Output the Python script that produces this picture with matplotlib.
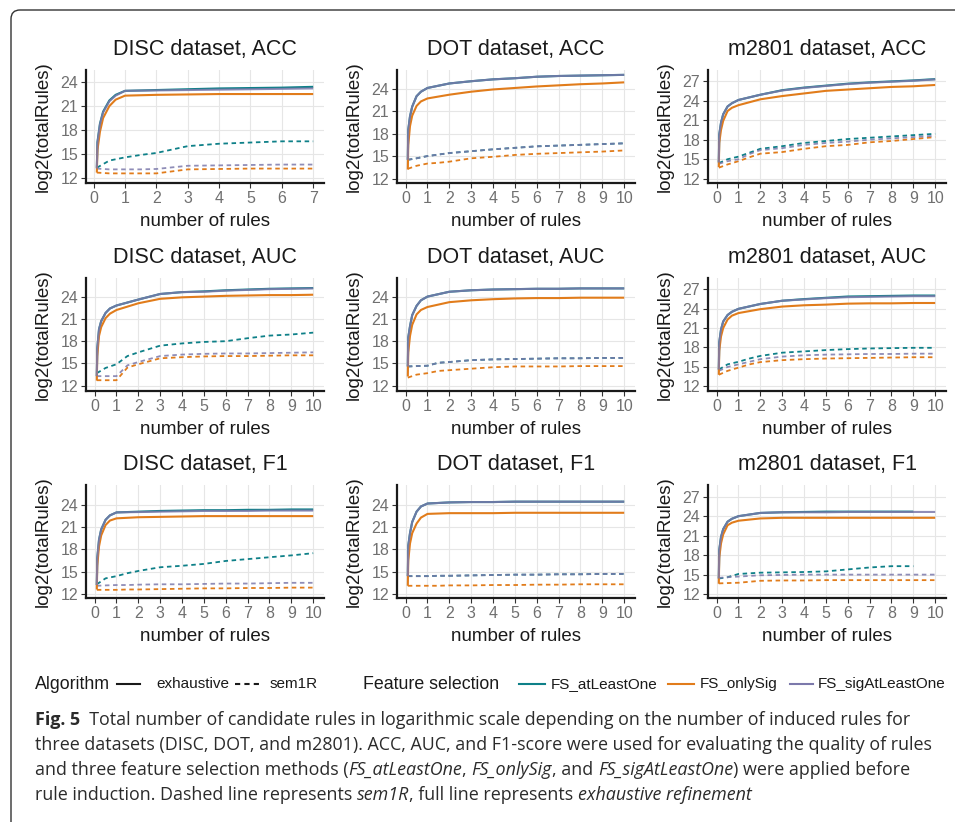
import numpy as np
import matplotlib
matplotlib.use("Agg")
from matplotlib import pyplot as plt
from matplotlib.lines import Line2D
from matplotlib.patches import FancyBboxPatch
from matplotlib.transforms import IdentityTransform

nan = np.nan

# x positions of the sampled points
x_exh = [0.1, 0.12, 0.2, 0.3, 0.5, 0.7, 1, 2, 3, 4, 5, 6, 7, 8, 9, 10]
x_sem = [0.1, 0.5, 1, 1.5, 2, 3, 4, 5, 6, 7, 8, 9, 10]
x_exh7 = x_exh[:13]
x_sem7 = x_sem[:10]

feature_sel = ["FS_atLeastOne", "FS_onlySig", "FS_sigAtLeastOne"]
colors = ["#0E8088", "#E17C1B", "#7C79AB"]

# each list: [FS_atLeastOne, FS_onlySig, FS_sigAtLeastOne]
disc_acc_exh = [
    [13.3, 16.5, 18.8, 20.3, 21.7, 22.4, 22.9, 23.0, 23.1, 23.2, 23.25, 23.3, 23.4],
    [12.7, 15.5, 17.8, 19.5, 21.0, 21.8, 22.3, 22.4, 22.45, 22.5, 22.5, 22.5, 22.5],
    [13.2, 16.4, 18.7, 20.2, 21.6, 22.3, 22.9, 22.95, 23.0, 23.05, 23.1, 23.15, 23.2],
]
disc_acc_sem = [
    [13.3, 14.2, 14.6, 14.9, 15.15, 16.0, 16.3, 16.45, 16.6, 16.6],
    [12.7, 12.6, 12.6, 12.6, 12.6, 13.1, 13.15, 13.2, 13.2, 13.2],
    [13.2, 13.1, 13.1, 13.1, 13.15, 13.55, 13.6, 13.65, 13.7, 13.7],
]
dot_acc_exh = [
    [14.5, 18.5, 20.3, 21.6, 23.0, 23.6, 24.1, 24.7, 25.0, 25.25, 25.4, 25.6, 25.7, 25.75, 25.8, 25.85],
    [13.2, 16.5, 19.0, 20.4, 21.7, 22.3, 22.7, 23.2, 23.6, 23.9, 24.1, 24.3, 24.45, 24.6, 24.7, 24.85],
    [14.5, 18.5, 20.3, 21.6, 23.0, 23.6, 24.1, 24.7, 25.0, 25.25, 25.4, 25.6, 25.7, 25.75, 25.8, 25.85],
]
dot_acc_sem = [
    [14.5, 14.7, 15.0, 15.2, 15.4, 15.65, 15.9, 16.1, 16.3, 16.4, 16.5, 16.6, 16.7],
    [13.3, 13.7, 14.0, 14.1, 14.25, 14.7, 14.9, 15.15, 15.3, 15.4, 15.5, 15.6, 15.75],
    [14.5, 14.7, 15.0, 15.2, 15.4, 15.65, 15.9, 16.1, 16.3, 16.4, 16.5, 16.6, 16.7],
]
m2801_acc_exh = [
    [14.5, 18.8, 20.6, 21.9, 23.1, 23.6, 24.1, 24.9, 25.6, 26.0, 26.3, 26.6, 26.8, 26.95, 27.1, 27.3],
    [13.8, 17.5, 19.5, 20.9, 22.4, 22.9, 23.3, 24.2, 24.7, 25.1, 25.5, 25.7, 25.9, 26.1, 26.2, 26.4],
    [14.5, 18.8, 20.6, 21.9, 23.1, 23.6, 24.1, 24.9, 25.55, 25.95, 26.25, 26.55, 26.75, 26.9, 27.05, 27.25],
]
m2801_acc_sem = [
    [14.4, 15.0, 15.4, 16.0, 16.6, 17.0, 17.5, 17.8, 18.1, 18.3, 18.5, 18.7, 18.9],
    [13.7, 14.2, 14.7, 15.3, 15.85, 16.1, 16.6, 17.0, 17.2, 17.6, 17.8, 18.1, 18.4],
    [14.3, 14.7, 15.0, 15.8, 16.4, 16.7, 17.2, 17.5, 17.7, 18.0, 18.2, 18.4, 18.6],
]
disc_auc_exh = [
    [13.3, 17.0, 19.6, 20.7, 21.8, 22.4, 22.8, 23.6, 24.35, 24.6, 24.7, 24.85, 24.95, 25.05, 25.1, 25.15],
    [12.7, 16.0, 18.7, 19.9, 21.1, 21.7, 22.2, 23.1, 23.7, 23.9, 24.0, 24.1, 24.15, 24.2, 24.2, 24.25],
    [13.3, 17.0, 19.6, 20.7, 21.8, 22.4, 22.8, 23.6, 24.35, 24.6, 24.65, 24.8, 24.9, 25.0, 25.05, 25.1],
]
disc_auc_sem = [
    [13.7, 14.4, 14.9, 16.0, 16.5, 17.4, 17.7, 17.9, 18.0, 18.4, 18.75, 18.9, 19.15],
    [12.75, 12.75, 12.75, 14.45, 14.9, 15.7, 15.85, 15.95, 16.0, 16.0, 16.05, 16.1, 16.1],
    [13.3, 13.3, 13.3, 14.75, 15.2, 16.0, 16.2, 16.3, 16.35, 16.35, 16.4, 16.45, 16.5],
]
dot_auc_exh = [
    [14.6, 18.5, 20.0, 21.5, 22.75, 23.5, 24.0, 24.65, 24.85, 24.95, 25.0, 25.05, 25.05, 25.1, 25.1, 25.1],
    [13.25, 16.5, 18.7, 20.2, 21.6, 22.2, 22.6, 23.25, 23.5, 23.65, 23.75, 23.8, 23.8, 23.85, 23.85, 23.85],
    [14.6, 18.5, 20.0, 21.5, 22.75, 23.5, 24.0, 24.65, 24.85, 24.95, 25.0, 25.05, 25.05, 25.1, 25.1, 25.1],
]
dot_auc_sem = [
    [14.6, 14.65, 14.7, 15.1, 15.2, 15.45, 15.55, 15.6, 15.65, 15.7, 15.7, 15.75, 15.75],
    [13.1, 13.5, 13.7, 14.0, 14.1, 14.3, 14.5, 14.6, 14.6, 14.6, 14.65, 14.65, 14.65],
    [14.6, 14.65, 14.7, 15.1, 15.2, 15.45, 15.55, 15.6, 15.65, 15.7, 15.7, 15.75, 15.75],
]
m2801_auc_exh = [
    [14.6, 18.8, 20.75, 22.0, 23.0, 23.5, 23.95, 24.7, 25.2, 25.45, 25.65, 25.85, 25.9, 25.95, 26.0, 26.0],
    [13.8, 17.5, 19.7, 21.0, 22.3, 22.9, 23.3, 23.9, 24.3, 24.5, 24.6, 24.75, 24.8, 24.8, 24.85, 24.85],
    [14.6, 18.8, 20.75, 22.0, 23.0, 23.5, 23.95, 24.7, 25.2, 25.4, 25.6, 25.75, 25.8, 25.85, 25.9, 25.9],
]
m2801_auc_sem = [
    [14.6, 15.4, 15.8, 16.3, 16.7, 17.2, 17.4, 17.6, 17.75, 17.85, 17.9, 17.95, 17.95],
    [13.8, 14.4, 14.9, 15.4, 15.75, 16.05, 16.2, 16.3, 16.35, 16.4, 16.45, 16.5, 16.5],
    [14.4, 15.0, 15.4, 15.8, 16.2, 16.6, 16.8, 16.9, 16.95, 17.0, 17.0, 17.05, 17.05],
]
disc_f1_exh = [
    [13.2, 16.8, 19.3, 20.7, 22.0, 22.6, 23.0, 23.1, 23.2, 23.25, 23.3, 23.3, 23.35, 23.35, 23.4, 23.4],
    [12.6, 15.8, 18.4, 19.9, 21.3, 21.9, 22.2, 22.35, 22.4, 22.45, 22.5, 22.5, 22.5, 22.5, 22.5, 22.5],
    [13.2, 16.8, 19.3, 20.7, 22.0, 22.6, 23.0, 23.05, 23.1, 23.15, 23.2, 23.2, 23.2, 23.25, 23.25, 23.25],
]
disc_f1_sem = [
    [13.3, 14.1, 14.4, 14.8, 15.1, 15.6, 15.8, 16.05, 16.45, 16.7, 16.95, 17.2, 17.5],
    [12.55, 12.55, 12.55, 12.6, 12.6, 12.65, 12.7, 12.75, 12.75, 12.8, 12.8, 12.85, 12.85],
    [13.1, 13.15, 13.2, 13.2, 13.25, 13.3, 13.3, 13.35, 13.4, 13.4, 13.45, 13.5, 13.5],
]
dot_f1_exh = [
    [14.4, 18.5, 20.2, 21.7, 23.1, 23.8, 24.2, 24.35, 24.4, 24.4, 24.45, 24.45, 24.45, 24.45, 24.45, 24.45],
    [13.1, 16.5, 18.8, 20.2, 21.5, 22.3, 22.8, 22.9, 22.9, 22.9, 22.95, 22.95, 22.95, 22.95, 22.95, 22.95],
    [14.4, 18.5, 20.2, 21.7, 23.1, 23.8, 24.2, 24.35, 24.4, 24.4, 24.45, 24.45, 24.45, 24.45, 24.45, 24.45],
]
dot_f1_sem = [
    [14.4, 14.4, 14.4, 14.45, 14.45, 14.5, 14.55, 14.6, 14.6, 14.65, 14.65, 14.7, 14.7],
    [13.1, 13.1, 13.1, 13.1, 13.15, 13.15, 13.2, 13.2, 13.25, 13.25, 13.3, 13.3, 13.3],
    [14.4, 14.4, 14.4, 14.45, 14.45, 14.5, 14.55, 14.6, 14.6, 14.65, 14.65, 14.7, 14.7],
]
m2801_f1_exh = [
    [14.4, 18.8, 20.8, 22.0, 23.15, 23.6, 24.0, 24.5, 24.6, 24.65, 24.7, 24.7, 24.7, 24.7, 24.7, nan],
    [13.6, 17.6, 19.8, 21.2, 22.6, 23.0, 23.3, 23.65, 23.75, 23.75, 23.75, 23.75, 23.75, 23.75, 23.75, 23.75],
    [14.4, 18.8, 20.8, 22.0, 23.15, 23.6, 24.0, 24.5, 24.6, 24.6, 24.6, 24.65, 24.65, 24.65, 24.65, 24.65],
]
m2801_f1_sem = [
    [14.4, 14.6, 15.1, 15.2, 15.3, 15.35, 15.4, 15.5, 15.8, 16.1, 16.3, 16.3, nan],
    [13.65, 13.7, 13.75, 13.9, 14.05, 14.1, 14.1, 14.15, 14.15, 14.15, 14.15, 14.15, 14.15],
    [14.5, 14.6, 14.7, 14.8, 14.9, 14.95, 15.0, 15.0, 15.0, 15.0, 15.0, 15.0, 15.0],
]

panels = [
    ("DISC dataset, ACC", disc_acc_exh, disc_acc_sem, x_exh7, x_sem7, 7, (11.4, 25.5)),
    ("DOT dataset, ACC", dot_acc_exh, dot_acc_sem, x_exh, x_sem, 10, (11.4, 26.5)),
    ("m2801 dataset, ACC", m2801_acc_exh, m2801_acc_sem, x_exh, x_sem, 10, (11.35, 28.7)),
    ("DISC dataset, AUC", disc_auc_exh, disc_auc_sem, x_exh, x_sem, 10, (11.3, 26.5)),
    ("DOT dataset, AUC", dot_auc_exh, dot_auc_sem, x_exh, x_sem, 10, (11.3, 26.5)),
    ("m2801 dataset, AUC", m2801_auc_exh, m2801_auc_sem, x_exh, x_sem, 10, (11.3, 28.7)),
    ("DISC dataset, F1", disc_f1_exh, disc_f1_sem, x_exh, x_sem, 10, (11.45, 26.7)),
    ("DOT dataset, F1", dot_f1_exh, dot_f1_sem, x_exh, x_sem, 10, (11.45, 26.7)),
    ("m2801 dataset, F1", m2801_f1_exh, m2801_f1_sem, x_exh, x_sem, 10, (11.4, 28.8)),
]

W, H = 955, 822
plt.rcParams["font.family"] = ["Liberation Sans", "DejaVu Sans"]
fig = plt.figure(figsize=(W / 100, H / 100), dpi=100)

col_left = [86, 397, 708]
row_top = [70, 278, 485]
ax_w, ax_h = 238, 113
dash = (0, (2.5, 2))

for k, (title, exh, sem, xe, xs, xmax, ylim) in enumerate(panels):
    r, c = divmod(k, 3)
    ax = fig.add_axes([col_left[c] / W, 1 - (row_top[r] + ax_h) / H, ax_w / W, ax_h / H])
    for i in range(3):
        a = 0.85 if i == 2 else 1.0
        ax.plot(xs, sem[i], color=colors[i], lw=1.3, ls=dash, alpha=a)
    for i in range(3):
        a = 0.85 if i == 2 else 1.0
        ax.plot(xe, exh[i], color=colors[i], lw=1.5, alpha=a, solid_capstyle="butt")
    ax.set_xlim(0.1 - 0.05 * (xmax - 0.1), xmax + 0.05 * (xmax - 0.1))
    ax.set_ylim(*ylim)
    ax.set_xticks(range(0, xmax + 1))
    ax.set_yticks(range(12, int(ylim[1]) + 1, 3))
    ax.grid(True, color="#E6E6E6", lw=0.8)
    ax.set_axisbelow(True)
    for s in ["top", "right"]:
        ax.spines[s].set_visible(False)
    for s in ["left", "bottom"]:
        ax.spines[s].set_color("#1A1A1A")
        ax.spines[s].set_linewidth(1.6)
    ax.tick_params(length=3.5, width=0.8, color="#333333", labelcolor="#707070",
                   labelsize=11.5, pad=2)
    ax.set_title(title, fontsize=15.5, color="#1A1A1A", pad=11)
    ax.set_xlabel("number of rules", fontsize=13.5, color="#1A1A1A", labelpad=5)
    ax.set_ylabel("log2(totalRules)", fontsize=13.5, color="#1A1A1A", labelpad=6)

# legend row
ly = 1 - 684 / H


def leg_line(x0, x1, color, ls="-"):
    fig.add_artist(Line2D([x0 / W, x1 / W], [ly, ly], transform=fig.transFigure,
                          color=color, lw=1.5, ls=ls))


fig.text(35 / W, ly, "Algorithm", fontsize=12.8, va="center", color="#1A1A1A")
leg_line(117, 140, "#1A1A1A")
fig.text(156 / W, ly, "exhaustive", fontsize=11, va="center", color="#1A1A1A")
leg_line(235, 262, "#1A1A1A", ls=dash)
fig.text(270 / W, ly, "sem1R", fontsize=11, va="center", color="#1A1A1A")
fig.text(363 / W, ly, "Feature selection", fontsize=12.8, va="center", color="#1A1A1A")
leg_x = [(519, 545, 551), (668, 694, 700), (790, 813, 818)]
for (x0, x1, xt), col, name in zip(leg_x, colors, feature_sel):
    leg_line(x0, x1, col)
    fig.text(xt / W, ly, name, fontsize=11, va="center", color="#1A1A1A")

# caption
cap_font = ["Open Sans", "DejaVu Sans"]
cap_size = 12.9
caption = [
    [("Fig. 5", "bold"), ("  Total number of candidate rules in logarithmic scale depending on the number of induced rules for", "normal")],
    [("three datasets (DISC, DOT, and m2801). ACC, AUC, and F1-score were used for evaluating the quality of rules", "normal")],
    [("and three feature selection methods (", "normal"), ("FS_atLeastOne", "italic"), (", ", "normal"),
     ("FS_onlySig", "italic"), (", and ", "normal"), ("FS_sigAtLeastOne", "italic"),
     (") were applied before", "normal")],
    [("rule induction. Dashed line represents ", "normal"), ("sem1R", "italic"),
     (", full line represents ", "normal"), ("exhaustive refinement", "italic")],
]
cap_y = [725, 750, 775, 800]

renderer = fig.canvas.get_renderer()


def run_width(text, style):
    kw = dict(fontsize=cap_size, family=cap_font)
    if style == "bold":
        kw["fontweight"] = "bold"
    if style == "italic":
        kw["fontstyle"] = "italic"
    t1 = fig.text(0, 0, "|" + text + "|", **kw)
    t2 = fig.text(0, 0, "||", **kw)
    w = t1.get_window_extent(renderer).width - t2.get_window_extent(renderer).width
    t1.remove()
    t2.remove()
    return w, kw


for line, yy in zip(caption, cap_y):
    x = 35
    for text, style in line:
        w, kw = run_width(text, style)
        fig.text(x / W, 1 - yy / H, text, va="baseline", color="#2B2B2B", **kw)
        x += w

# frame around the figure
frame = FancyBboxPatch((11, -60), 1200, H - 10 + 60, boxstyle="round,pad=0,rounding_size=9",
                       transform=IdentityTransform(), fill=False, ec="#333333", lw=1.0)
fig.add_artist(frame)

fig.savefig("out.png", dpi=100)
